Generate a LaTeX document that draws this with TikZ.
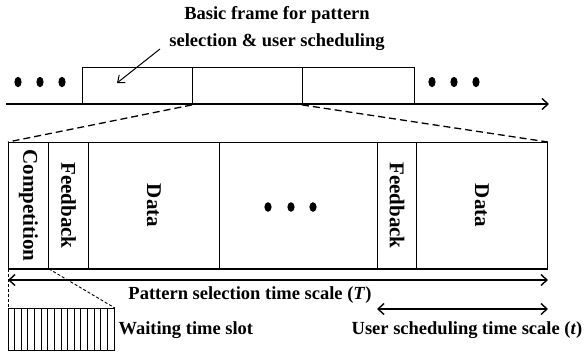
\documentclass[tikz,border=0pt]{standalone}
\usepackage{fontspec}
\setmainfont{Liberation Serif}
\usetikzlibrary{arrows.meta}
\tikzset{
  frame/.style={draw, line width=0.9pt, inner sep=0pt, anchor=north west},
  axis/.style={line width=1.4pt, arrows={Straight Barb[length=6pt,width=11pt,line width=1.4pt]-Straight Barb[length=6pt,width=11pt,line width=1.4pt]}},
  vtext/.style={rotate=-90, font=\bfseries\fontsize{21}{21}\selectfont},
  lbl/.style={font=\bfseries\fontsize{18.5}{27}\selectfont},
  zoomline/.style={line width=1.3pt, dash pattern=on 7pt off 4pt}
}
\begin{document}
\begin{tikzpicture}[x=1pt,y=-1pt]
	\useasboundingbox (0,0) rectangle (584,356);
	% Time axis with three basic frames
	\coordinate (axs) at (6,104);
	\coordinate (axe) at (549,104);
	\draw[line width=1.4pt, -{Straight Barb[length=6pt,width=11pt,line width=1.4pt]}] (axs) -- (axe);
	\node[frame, minimum width=110, minimum height=37] (b1) at (82,67) {};
	\node[frame, minimum width=110, minimum height=37] (b2) at (192,67) {};
	\node[frame, minimum width=112, minimum height=37] (b3) at (302,67) {};
	\foreach \x in {18,40,62,432,454,476}
		\fill (\x,82) ellipse (3.6 and 5.2);
	% Title and pointer into the first frame
	\node[lbl, align=center] (title) at (277,29) {Basic frame for pattern\\selection \& user scheduling};
	\coordinate (ptr) at (160,49);
	\coordinate (ptrend) at (117,83);
	\draw[line width=1pt, -{Straight Barb[length=6pt,width=10pt,line width=1pt]}] (ptr) -- (ptrend);
	% Zoomed frame
	\node[frame, minimum width=539, minimum height=126] (big) at (8,142) {};
	\node[frame, minimum width=40, minimum height=126] (comp) at (8,142) {};
	\node[frame, minimum width=40, minimum height=126] (fb1) at (48,142) {};
	\node[frame, minimum width=131, minimum height=126] (dat1) at (88,142) {};
	\node[frame, minimum width=158, minimum height=126] (gap) at (219,142) {};
	\node[frame, minimum width=39, minimum height=126] (fb2) at (377,142) {};
	\node[frame, minimum width=131, minimum height=126] (dat2) at (416,142) {};
	\draw[line width=1.6pt] (big.south west) -- (big.south east);
	\node[vtext] (tcomp) at (comp) {Competition};
	\node[vtext] (tfb1) at (fb1) {Feedback};
	\node[vtext] (tdat1) at (dat1) {Data};
	\node[vtext] (tfb2) at (fb2) {Feedback};
	\node[vtext] (tdat2) at (dat2) {Data};
	\foreach \x in {268,291,313}
		\fill (\x,207) ellipse (3.6 and 4.8);
	\draw[zoomline] (b2.south west) -- (big.north west);
	\draw[zoomline] (b3.south west) -- (big.north east);
	% Time scales
	\coordinate (ts) at (8,280);
	\coordinate (te) at (548,280);
	\draw[axis] (ts) -- (te);
	\node[lbl] (tlab) at (250,295) {Pattern selection time scale (\textit{T})};
	\coordinate (us) at (377,309);
	\coordinate (ue) at (548,309);
	\draw[axis] (us) -- (ue);
	\node[lbl] (ulab) at (467,330) {User scheduling time scale (\textit{t})};
	% Waiting time slots
	\node[frame, minimum width=106, minimum height=42] (slot) at (8,308) {};
	\foreach \i in {1,...,15}
		\draw[line width=0.8pt] (8+\i*6.625,308) -- (8+\i*6.625,350);
	\draw[line width=0.9pt, dash pattern=on 3pt off 2pt] (comp.south west) -- (slot.north west);
	\draw[line width=0.9pt, dash pattern=on 3pt off 2pt] (comp.south east) -- (slot.north east);
	\node[lbl, anchor=west] (wlab) at (115,330) {Waiting time slot};
\end{tikzpicture}
\end{document}
